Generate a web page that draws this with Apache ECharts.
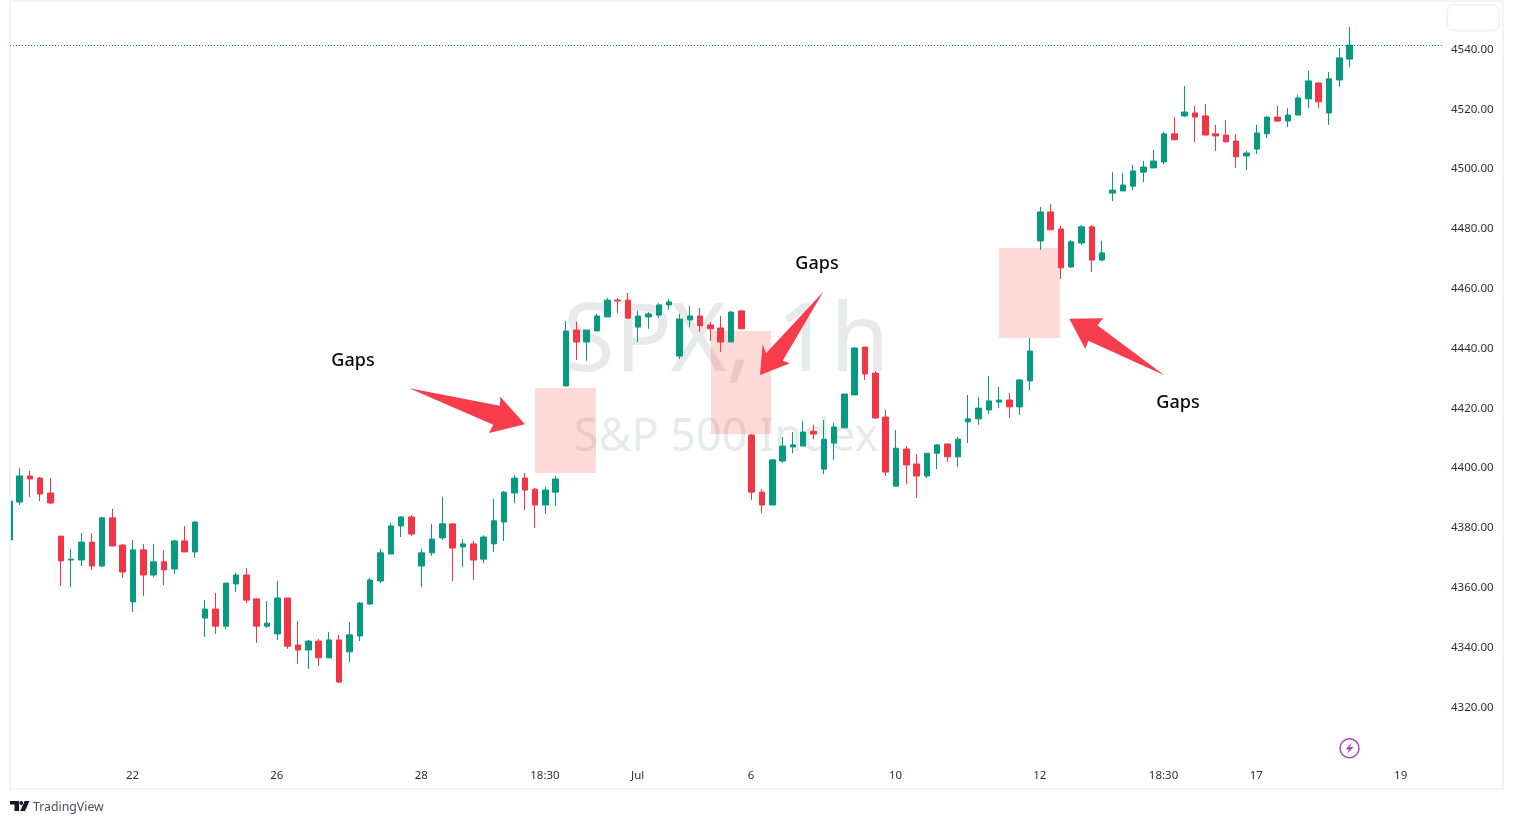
<!DOCTYPE html>
<html>
<head>
<meta charset="utf-8">
<style>html,body{margin:0;padding:0;background:#fff}#c{width:1513px;height:824px}</style>
<script src="https://cdn.jsdelivr.net/npm/echarts@6/dist/echarts.min.js"></script>
</head>
<body>
<div id="c"></div>
<script>
const opens = [
4376.0,4388.7,4397.4,4396.7,4391.7,4377.3,4369.3,4369.3,4375.3,4367.3,
4383.4,4374.3,4355.3,4372.7,4364.3,4368.7,4366.3,4375.7,4372.0,4349.9,
4352.9,4347.2,4361.3,4364.3,4356.3,4347.2,4344.6,4356.6,4340.9,4339.2,
4342.2,4336.6,4342.6,4338.6,4343.9,4354.6,4362.3,4371.3,4380.7,4383.7,
4367.3,4371.7,4376.7,4381.4,4373.7,4374.7,4369.6,4374.7,4382.0,4391.7,
4396.7,4393.0,4387.7,4392.0,4427.5,4446.2,4442.2,4445.9,4450.6,4456.2,
4456.2,4447.2,4450.6,4451.2,4454.6,4437.5,4449.6,4450.9,4447.9,4446.9,
4442.2,4452.6,4411.1,4392.0,4387.7,4402.4,4407.1,4407.4,4412.4,4399.7,
4408.4,4413.5,4424.5,4440.5,4431.8,4417.1,4394.0,4406.4,4401.4,4397.4,
4405.0,4408.1,4403.8,4415.5,4416.5,4419.5,4422.1,4422.8,4420.5,4429.2,
4476.0,4485.7,4480.0,4467.3,4475.3,4480.7,4469.6,4492.0,4492.7,4494.3,
4499.0,4500.4,4502.4,4511.8,4517.8,4518.8,4517.8,4511.8,4511.4,4509.4,
4504.4,4506.7,4511.8,4517.4,4516.1,4518.1,4523.5,4528.8,4518.8,4529.8,
4536.8];
const closes = [
4389.0,4397.4,4396.4,4391.4,4388.4,4369.0,4369.6,4375.3,4367.3,4383.4,
4374.0,4365.3,4372.7,4364.3,4368.7,4366.0,4375.7,4372.0,4382.0,4352.9,
4347.2,4361.6,4364.3,4355.9,4347.2,4348.2,4356.6,4340.5,4339.2,4342.2,
4336.6,4342.6,4328.5,4344.3,4354.9,4362.6,4371.7,4380.7,4383.7,4378.0,
4371.7,4376.3,4381.4,4373.3,4374.7,4369.3,4377.0,4382.4,4392.0,4396.7,
4392.7,4387.7,4392.7,4396.4,4445.9,4442.2,4446.2,4450.9,4456.2,4455.9,
4450.2,4450.9,4451.6,4454.6,4455.6,4449.9,4450.9,4447.6,4446.6,4442.2,
4452.2,4446.6,4392.0,4387.7,4402.8,4407.4,4407.8,4412.1,4411.4,4409.7,
4413.8,4424.8,4440.2,4431.5,4416.8,4398.7,4406.7,4401.1,4397.4,4405.0,
4407.8,4403.8,4409.7,4416.5,4420.1,4422.5,4422.8,4420.5,4429.5,4439.2,
4485.7,4479.7,4467.0,4475.7,4480.7,4469.6,4472.0,4493.0,4494.7,4499.4,
4500.7,4502.7,4511.8,4509.8,4519.1,4517.4,4511.4,4511.1,4509.1,4504.1,
4505.4,4512.1,4517.4,4516.1,4518.1,4523.8,4529.5,4522.5,4530.2,4537.2,
4541.5];
const lows = [
4376.0,4387.7,4390.4,4389.0,4388.0,4360.6,4360.3,4367.3,4366.0,4367.0,
4374.0,4363.3,4351.9,4357.3,4363.6,4360.9,4364.6,4372.0,4370.0,4343.6,
4344.6,4346.2,4358.6,4354.9,4341.6,4346.6,4342.6,4339.6,4334.6,4332.9,
4333.9,4336.6,4328.2,4335.2,4342.2,4354.3,4361.6,4371.3,4377.0,4377.3,
4360.3,4370.7,4376.0,4362.3,4367.0,4362.6,4368.3,4372.0,4375.7,4388.4,
4386.0,4380.0,4384.7,4387.4,4427.5,4436.2,4435.9,4445.9,4450.6,4451.9,
4449.9,4442.2,4446.6,4450.2,4452.9,4436.5,4447.2,4445.6,4442.5,4438.9,
4442.2,4446.6,4389.4,4385.0,4387.7,4401.7,4405.0,4407.4,4409.7,4398.0,
4402.8,4413.5,4424.5,4429.5,4416.5,4397.4,4394.0,4394.7,4390.0,4396.7,
4399.7,4402.1,4400.4,4408.4,4414.5,4418.1,4420.1,4416.8,4417.8,4426.1,
4473.0,4479.7,4463.3,4467.0,4474.7,4465.6,4469.3,4489.3,4492.7,4493.0,
4495.7,4500.4,4501.7,4509.8,4517.4,4509.1,4511.4,4506.1,4509.1,4500.4,
4499.7,4505.1,4510.4,4515.8,4514.1,4518.1,4520.4,4520.4,4514.8,4527.5,
4534.1];
const highs = [
4389.0,4400.1,4399.1,4397.1,4396.7,4377.3,4373.0,4378.3,4378.3,4383.7,
4386.4,4374.7,4376.0,4374.7,4374.7,4372.7,4376.0,4380.7,4382.4,4355.9,
4358.3,4361.6,4365.0,4366.7,4356.6,4355.6,4362.3,4356.6,4348.9,4342.6,
4342.9,4345.3,4344.3,4348.6,4355.3,4363.3,4373.0,4381.7,4384.0,4384.4,
4373.0,4381.4,4390.4,4381.4,4376.3,4375.7,4377.6,4389.7,4392.4,4397.7,
4398.4,4393.4,4393.7,4397.4,4449.2,4448.9,4446.2,4451.6,4456.9,4456.9,
4458.6,4452.6,4452.2,4455.2,4456.6,4451.6,4454.2,4453.6,4448.9,4450.9,
4452.6,4452.9,4411.4,4393.0,4402.8,4410.4,4412.1,4415.8,4414.5,4416.1,
4415.1,4424.8,4440.5,4440.5,4432.5,4419.5,4412.8,4407.4,4404.7,4405.0,
4408.1,4408.1,4410.4,4424.5,4423.8,4430.8,4427.2,4425.1,4429.8,4443.5,
4487.3,4488.3,4481.0,4476.3,4481.3,4481.3,4476.0,4499.0,4498.7,4501.4,
4502.7,4506.4,4512.4,4517.4,4527.8,4521.1,4521.8,4514.8,4516.4,4511.8,
4506.1,4514.8,4517.8,4521.1,4520.4,4524.8,4532.8,4529.1,4532.5,4540.5,
4547.5];
const xTickBars = [12,26,40,52,61,72,86,100,112,121,135];
const xTickLabels = ['22','26','28','18:30','Jul','6','10','12','18:30','17','19'];
const yTicks = [4320,4340,4360,4380,4400,4420,4440,4460,4480,4500,4520,4540];
const gapZones = [[51.0,56.9,4398.4,4426.8],[68.06,73.88,4411.4,4445.9],[96.0,101.9,4443.5,4473.6]];
const UP='#089981', DOWN='#f23645', FRAME='#f0f3fa', FONT='"Noto Sans",sans-serif';

const candles = opens.map((o,i)=>[i,o,closes[i],lows[i],highs[i]]);
const arrow=pts=>({type:'polygon',z:100,shape:{points:pts},style:{fill:'#f73c4c'}});
const gapsLabel=(x,y)=>({type:'text',z:100,style:{text:'Gaps',x,y,align:'center',verticalAlign:'middle',font:'500 18px '+FONT,fill:'#0b0b0b'}});

const chart = echarts.init(document.getElementById('c'),null,{renderer:'canvas'});
chart.setOption({
  animation:false,
  backgroundColor:'#fff',
  grid:{left:10,top:1.65,width:1432,height:765.65,containLabel:false},
  xAxis:{type:'value',min:0.068,max:138.96,splitLine:{show:false},axisLine:{show:false},axisTick:{show:false},
    axisLabel:{customValues:xTickBars,margin:2,padding:[0,1,0,0],color:'#2a2e39',fontFamily:FONT,fontSize:11.5,showMinLabel:true,showMaxLabel:true,
      formatter:v=>xTickLabels[xTickBars.indexOf(v)]}},
  yAxis:{type:'value',position:'right',min:4300,max:4556,splitLine:{show:false},axisLine:{show:false},axisTick:{show:false},
    axisLabel:{customValues:yTicks,margin:9,padding:[4,0,0,0],color:'#2a2e39',fontFamily:FONT,fontSize:11.5,formatter:v=>v.toFixed(2)}},
  series:[{
    type:'candlestick',
    encode:{x:0,y:[1,2,3,4]},
    data:candles,
    barWidth:6,
    clip:true,
    itemStyle:{color:UP,color0:DOWN,borderColor:UP,borderColor0:DOWN,borderWidth:1},
    markArea:{silent:true,itemStyle:{color:'rgba(247,70,60,0.2)'},
      data:gapZones.map(z=>[{xAxis:z[0],yAxis:z[3]},{xAxis:z[1],yAxis:z[2]}])},
    markLine:{silent:true,symbol:'none',label:{show:false},lineStyle:{color:UP,type:[1,2],width:1},
      data:[{yAxis:closes[closes.length-1]}]}
  }],
  graphic:[
    {type:'rect',z:-2,shape:{x:10,y:1,width:1493,height:788},style:{fill:'none',stroke:FRAME,lineWidth:2}},
    {type:'rect',z:-2,shape:{x:1447,y:5,width:52,height:25.5,r:6},style:{fill:'#fff',stroke:FRAME,lineWidth:2}},
    {type:'text',z:-1,style:{text:'SPX, 1h',x:726,y:296,align:'center',verticalAlign:'top',font:'95px '+FONT,fill:'#e8e9eb'}},
    {type:'text',z:-1,style:{text:'S&P 500 Index',x:726,y:416,align:'center',verticalAlign:'top',font:'45px '+FONT,fill:'#e8e9eb'}},
    {type:'rect',z:20,shape:{x:0,y:400,width:9,height:200},style:{fill:'#fff'}},
    {type:'rect',z:21,shape:{x:9,y:400,width:2,height:200},style:{fill:FRAME}},
    arrow([[409.3,388.3],[500,405.7],[500.3,396.7],[525,424.3],[489,433],[493.3,424.7]]),
    arrow([[823.3,291.7],[766,353.3],[762.7,344.3],[760,375],[790,363.3],[782.7,360.7]]),
    arrow([[1164.3,375.3],[1088.3,340.7],[1085.3,349],[1069.3,318.7],[1103.3,318.3],[1097.3,325.3]]),
    gapsLabel(353,361),gapsLabel(817,264),gapsLabel(1178,403),
    {type:'circle',z:50,shape:{cx:1349.5,cy:748.3,r:9.5},style:{fill:'#fff',stroke:'#ab47bc',lineWidth:1.5}},
    {type:'polygon',z:51,shape:{points:[[1352,742.5],[1345.5,749.5],[1349,749.5],[1347,754],[1353.5,747],[1350,747]]},style:{fill:'#ab47bc'}},
    {type:'polygon',z:50,shape:{points:[[10,801],[19,801],[19,811],[14.5,811],[14.5,804.5],[10,804.5]]},style:{fill:'#131722'}},
    {type:'circle',z:50,shape:{cx:21.3,cy:803,r:1.9},style:{fill:'#131722'}},
    {type:'polygon',z:50,shape:{points:[[24.7,801],[29.5,801],[25,811],[20.2,811]]},style:{fill:'#131722'}},
    {type:'text',z:50,style:{text:'TradingView',x:33,y:807,align:'left',verticalAlign:'middle',font:'12.3px '+FONT,fill:'#4a4e5a'}}
  ]
});
</script>
</body>
</html>
